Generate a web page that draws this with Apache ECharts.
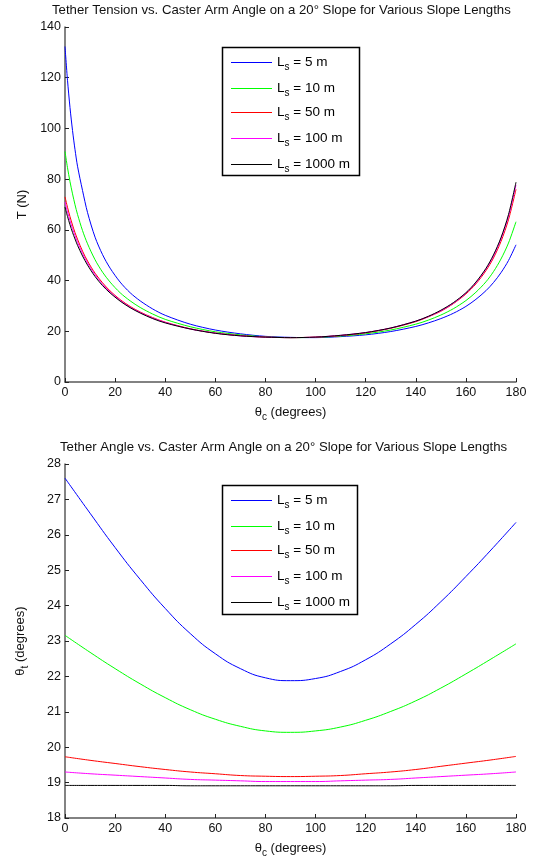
<!DOCTYPE html>
<html>
<head>
<meta charset="utf-8">
<script src="https://cdn.jsdelivr.net/npm/echarts@6/dist/echarts.min.js"></script>
<style>
  html, body { margin: 0; padding: 0; background: #fff; }
  #chart { width: 536px; height: 861px; }
</style>
</head>
<body>
<div id="chart"></div>
<script>
// slope lengths and line colours
const slopeLengths = ['5 m', '10 m', '50 m', '100 m', '1000 m'];
const lineColors = ['#0000ff', '#00ff00', '#ff0000', '#ff00ff', '#000000'];

// top plot: tether tension T (N) vs caster arm angle
const tensionAngles = [0, 1, 2, 3, 4, 5, 7, 9, 12, 15, 18, 22, 26, 30, 35, 40, 50, 60, 70, 80, 90,
  100, 110, 120, 130, 140, 145, 150, 155, 160, 164, 168, 171, 174, 177, 180];
const tension5 = [132.3, 119.0, 108.2, 99.2, 91.6, 85.1, 75.5, 66.8, 57.1, 50.2, 44.9, 39.4, 35.2, 32.0, 28.8, 26.3, 22.8, 20.5, 19.0, 18.0, 17.6,
  17.5, 17.9, 18.6, 19.9, 21.9, 23.3, 25.0, 27.1, 29.8, 32.6, 36.0, 39.2, 43.1, 47.9, 54.1];
const tension10 = [90.9, 84.5, 79.0, 74.2, 69.9, 66.1, 59.7, 54.5, 48.2, 43.3, 39.4, 35.2, 32.0, 29.4, 26.8, 24.7, 21.8, 19.8, 18.6, 17.8, 17.5,
  17.6, 18.1, 19.0, 20.5, 22.8, 24.4, 26.4, 28.9, 32.1, 35.4, 39.5, 43.5, 48.5, 54.8, 63.2];
const tension50 = [73.0, 68.9, 65.2, 61.9, 58.9, 56.3, 51.6, 47.7, 42.9, 39.1, 35.9, 32.5, 29.8, 27.6, 25.4, 23.6, 21.0, 19.3, 18.3, 17.7, 17.5,
  17.7, 18.3, 19.4, 21.2, 23.8, 25.7, 27.9, 30.9, 34.7, 38.7, 43.9, 48.9, 55.4, 64.0, 76.0];
const tension100 = [71.0, 67.1, 63.6, 60.5, 57.7, 55.1, 50.7, 46.9, 42.3, 38.5, 35.5, 32.2, 29.5, 27.4, 25.2, 23.5, 20.9, 19.3, 18.2, 17.7, 17.5,
  17.7, 18.4, 19.5, 21.3, 24.0, 25.8, 28.1, 31.1, 35.0, 39.1, 44.5, 49.6, 56.4, 65.3, 77.8];
const tension1000 = [69.0, 65.3, 62.0, 59.0, 56.4, 53.9, 49.7, 46.1, 41.6, 38.0, 35.1, 31.9, 29.3, 27.2, 25.0, 23.3, 20.9, 19.2, 18.2, 17.7, 17.5,
  17.7, 18.4, 19.5, 21.3, 24.0, 25.9, 28.3, 31.3, 35.2, 39.4, 44.8, 50.1, 56.9, 66.0, 78.8];

// bottom plot: tether angle (degrees) vs caster arm angle
const angleSteps = [0, 10, 20, 30, 40, 50, 60, 70, 80, 90, 100, 110, 120, 130, 140, 150, 160, 170, 180];
const tether5 = [27.60, 26.61, 25.64, 24.74, 23.92, 23.21, 22.64, 22.22, 21.96, 21.88, 21.94, 22.14, 22.47, 22.92, 23.47, 24.11, 24.82, 25.57, 26.35];
const tether10 = [23.16, 22.68, 22.22, 21.79, 21.40, 21.06, 20.79, 20.59, 20.46, 20.42, 20.46, 20.57, 20.76, 21.01, 21.31, 21.67, 22.07, 22.49, 22.92];
const tether50 = [19.73, 19.63, 19.54, 19.45, 19.37, 19.30, 19.25, 19.20, 19.18, 19.17, 19.18, 19.20, 19.25, 19.30, 19.37, 19.46, 19.55, 19.64, 19.74];
const tether100 = [19.30, 19.25, 19.21, 19.17, 19.13, 19.09, 19.07, 19.05, 19.03, 19.03, 19.03, 19.05, 19.07, 19.09, 19.13, 19.17, 19.21, 19.25, 19.30];
const tether1000 = [18.92, 18.92, 18.92, 18.92, 18.92, 18.91, 18.91, 18.91, 18.91, 18.91, 18.91, 18.91, 18.91, 18.91, 18.92, 18.92, 18.92, 18.92, 18.92];

const tensionSets = [tension5, tension10, tension50, tension100, tension1000];
const tetherSets = [tether5, tether10, tether50, tether100, tether1000];

const font = 'Liberation Sans, Arial, sans-serif';
const axisGray = '#5a5a5a';

function pairs(xs, ys) {
  return xs.map((x, i) => [x, ys[i]]);
}

const nameRich = {
  a: { fontSize: 13, fontFamily: font, color: '#111' },
  b: { fontSize: 10, fontFamily: font, color: '#111', padding: [9, 0, 0, 0] }
};

function makeXAxis(gridIndex) {
  return {
    type: 'value', gridIndex: gridIndex, min: 0, max: 180, interval: 20,
    name: '{a|θ}{b|c}{a| (degrees)}', nameLocation: 'middle', nameGap: 21,
    nameTextStyle: { fontFamily: font, color: '#111', rich: nameRich },
    axisLine: { onZero: false, lineStyle: { color: axisGray, width: 1.5 } },
    axisTick: { inside: true, length: 4, lineStyle: { color: '#222' } },
    axisLabel: { fontFamily: font, fontSize: 12.5, color: '#111', margin: 4 },
    splitLine: { show: false }
  };
}

function makeYAxis(gridIndex, min, max, interval, name) {
  return {
    type: 'value', gridIndex: gridIndex, min: min, max: max, interval: interval,
    name: name, nameLocation: 'middle', nameGap: 35,
    nameTextStyle: { fontFamily: font, fontSize: 13, color: '#111', rich: nameRich },
    axisLine: { show: true, onZero: false, lineStyle: { color: axisGray, width: 1.5 } },
    axisTick: { inside: true, length: 4, lineStyle: { color: '#222' } },
    axisLabel: { fontFamily: font, fontSize: 12.5, color: '#111', margin: 4 },
    splitLine: { show: false }
  };
}

// one legend per entry so each row sits on whole pixels (odd tops render crisp)
const legendTopsUpper = [53, 79, 103, 129, 155];
const legendTopsLower = [491, 517, 541, 567, 593];

function makeLegend(name, top) {
  return {
    orient: 'vertical', left: 231, top: top, itemWidth: 41, itemHeight: 1,
    padding: 0, selectedMode: false, icon: 'rect',
    data: [name],
    formatter: function (n) {
      return '{l|L}{s|s}{l|' + n.slice(2) + '}';
    },
    textStyle: {
      fontFamily: font, color: '#000',
      rich: {
        l: { fontSize: 13.5, fontFamily: font, lineHeight: 16 },
        s: { fontSize: 10, fontFamily: font, lineHeight: 16, padding: [9, 0, 0, 0] }
      }
    }
  };
}

let series = [];
let legends = [];
slopeLengths.forEach((len, i) => {
  let name = 'Ls = ' + len;
  series.push({
    name: name, type: 'line', xAxisIndex: 0, yAxisIndex: 0,
    data: pairs(tensionAngles, tensionSets[i]),
    smooth: 0.3, symbol: 'none',
    lineStyle: { width: 1, color: lineColors[i] }, itemStyle: { color: lineColors[i] },
    z: 2 + i
  });
  series.push({
    name: name, type: 'line', xAxisIndex: 1, yAxisIndex: 1,
    data: pairs(angleSteps, tetherSets[i]),
    smooth: 0.5, symbol: 'none',
    lineStyle: { width: 1, color: lineColors[i] }, itemStyle: { color: lineColors[i] },
    z: 2 + i
  });
  legends.push(makeLegend(name, legendTopsUpper[i]));
  legends.push(makeLegend(name, legendTopsLower[i]));
});

const option = {
  backgroundColor: '#fff',
  animation: false,
  title: [
    { text: 'Tether Tension vs. Caster Arm Angle on a 20° Slope for Various Slope Lengths', left: 52, top: 4, padding: 0,
      textStyle: { fontFamily: font, fontSize: 13.2, fontWeight: 'normal', color: '#111' } },
    { text: 'Tether Angle vs. Caster Arm Angle on a 20° Slope for Various Slope Lengths', left: 60, top: 441, padding: 0,
      textStyle: { fontFamily: font, fontSize: 13.2, fontWeight: 'normal', color: '#111' } }
  ],
  grid: [
    { left: 65, right: 20, top: 27, height: 355 },
    { left: 65, right: 20, top: 464, height: 354 }
  ],
  xAxis: [makeXAxis(0), makeXAxis(1)],
  yAxis: [
    makeYAxis(0, 0, 140, 20, '{a|T (N)}'),
    makeYAxis(1, 18, 28, 1, '{a|θ}{b|t}{a| (degrees)}')
  ],
  legend: legends,
  graphic: [
    { type: 'rect', shape: { x: 222.5, y: 47.5, width: 137, height: 128 }, style: { fill: 'none', stroke: '#000', lineWidth: 1.5 }, z: 10 },
    { type: 'rect', shape: { x: 222.5, y: 485.5, width: 135, height: 129 }, style: { fill: 'none', stroke: '#000', lineWidth: 1.5 }, z: 10 }
  ],
  series: series
};

const chart = echarts.init(document.getElementById('chart'));
chart.setOption(option);
</script>
</body>
</html>
